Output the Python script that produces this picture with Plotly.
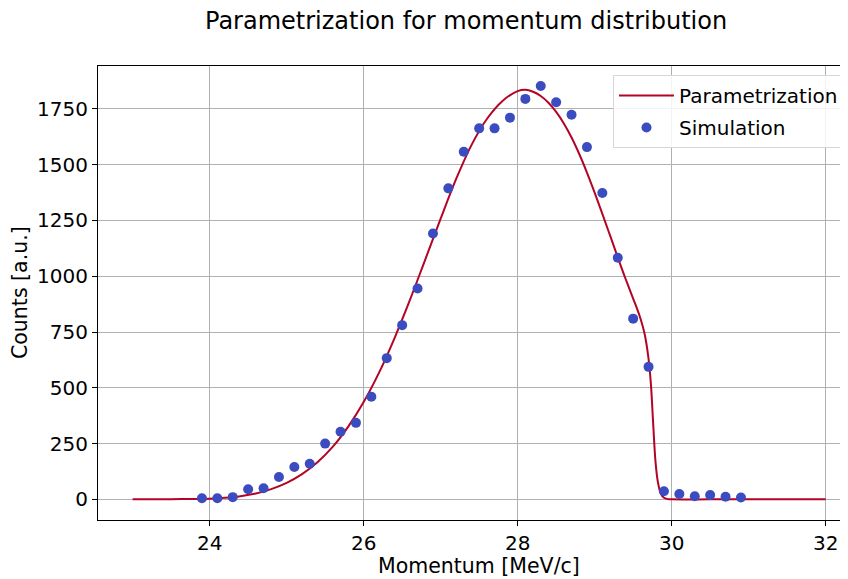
import plotly.graph_objects as go

# Simulation points
sim_x = [23.9, 24.1, 24.3, 24.5, 24.7, 24.9, 25.1, 25.3, 25.5, 25.7, 25.9, 26.1,
         26.3, 26.5, 26.7, 26.9, 27.1, 27.3, 27.5, 27.7, 27.9, 28.1, 28.3, 28.5,
         28.7, 28.9, 29.1, 29.3, 29.5, 29.7, 29.9, 30.1, 30.3, 30.5, 30.7, 30.9]
sim_y = [5, 5, 10, 45, 50, 100, 145, 160, 250, 303, 343, 460,
         633, 781, 945, 1192, 1394, 1558, 1663, 1663, 1711, 1795, 1853, 1780,
         1724, 1579, 1373, 1083, 810, 594, 36, 24, 14, 19, 12, 8]

# Parametrization curve
par_x = [23.0, 23.5, 24.0, 24.2, 24.4, 24.6, 24.8, 25.0, 25.2, 25.4, 25.6,
         25.8, 26.0, 26.2, 26.4, 26.6, 26.8, 27.0, 27.2, 27.4, 27.6, 27.8,
         28.0, 28.1, 28.2, 28.3, 28.4, 28.5, 28.6, 28.7, 28.8, 28.9, 29.0,
         29.1, 29.2, 29.3, 29.4, 29.5, 29.55, 29.6, 29.65, 29.7, 29.73,
         29.76, 29.79, 29.82, 29.86, 29.9, 29.95, 30.0, 30.5, 31.0, 31.5, 32.0]
par_y = [0, 1, 3, 7, 14, 26, 46, 74, 113, 166, 236,
         326, 436, 568, 722, 893, 1075, 1258, 1435, 1588, 1705, 1785,
         1830, 1836, 1827, 1808, 1778, 1737, 1685, 1622, 1548, 1465, 1375,
         1280, 1183, 1085, 990, 900, 855, 805, 740, 630, 520,
         340, 170, 80, 25, 7, 1, 0, 0, 0, 0, 0]

x_ticks = [24, 26, 28, 30, 32]
y_ticks = [0, 250, 500, 750, 1000, 1250, 1500, 1750]

FONT = "DejaVu Sans"

# page offset (browser body margin) compensated: figure drawn at (8, 8)
OFF = 8
PL, PR, PT, PB = 98, 848, 66, 520          # plot area in page pixels
PW, PH = PR - PL, PB - PT


def px(xp):
    return (xp - PL) / PW


def py(yp):
    return (PB - yp) / PH


fig = go.Figure()
fig.add_trace(go.Scatter(
    x=par_x, y=par_y, mode="lines", name="Parametrization", legendgroup="a",
    line=dict(color="#b40426", width=2, shape="spline", smoothing=1.0),
))
fig.add_trace(go.Scatter(
    x=sim_x, y=sim_y, mode="markers", name="Simulation", legendgroup="b",
    marker=dict(color="#3b4cc0", size=10, line=dict(width=0)),
))

W, H = 848 - OFF, 579 - OFF

fig.update_layout(
    width=W, height=H,
    margin=dict(l=PL - OFF, r=W - (PR - OFF), t=PT - OFF, b=H - (PB - OFF), autoexpand=False),
    paper_bgcolor="white", plot_bgcolor="white",
    font=dict(family=FONT, size=19, color="black"),
    showlegend=True,
    legend=dict(
        x=px(613), y=py(75),
        xanchor="left", yanchor="top",
        bgcolor="rgba(255,255,255,0.85)", bordercolor="#d6d6d6", borderwidth=1,
        font=dict(family=FONT, size=20),
        tracegroupgap=3, itemwidth=55,
    ),
    annotations=[
        dict(text="Parametrization for momentum distribution", xref="paper", yref="paper",
             x=px(465.5), y=py(21.5),
             xanchor="center", yanchor="middle", showarrow=False,
             font=dict(family=FONT, size=24)),
        dict(text="Momentum [MeV/c]", xref="paper", yref="paper",
             x=px(478.8), y=py(566),
             xanchor="center", yanchor="middle", showarrow=False,
             font=dict(family=FONT, size=20.5)),
        dict(text="Counts [a.u.]", xref="paper", yref="paper",
             x=px(20), y=0.5, textangle=-90,
             xanchor="center", yanchor="middle", showarrow=False,
             font=dict(family=FONT, size=20.5)),
    ],
)

fig.update_xaxes(
    range=[22.55, 22.55 + PW / 77.0],
    tickvals=x_ticks, ticktext=[str(v) for v in x_ticks],
    showgrid=True, gridcolor="#b0b0b0", gridwidth=1,
    showline=True, linecolor="black", linewidth=1, mirror=True,
    ticks="outside", ticklen=5, tickcolor="black", tickwidth=1,
    tickfont=dict(family=FONT, size=20), zeroline=False, automargin=False,
)
fig.update_yaxes(
    range=[-92.5, 1942.5],
    tickvals=y_ticks, ticktext=[str(v) for v in y_ticks],
    showgrid=True, gridcolor="#b0b0b0", gridwidth=1,
    showline=True, linecolor="black", linewidth=1, mirror=False,
    ticks="outside", ticklen=5, tickcolor="black", tickwidth=1,
    tickfont=dict(family=FONT, size=20), zeroline=False, automargin=False,
)

fig.write_html("out.html")
